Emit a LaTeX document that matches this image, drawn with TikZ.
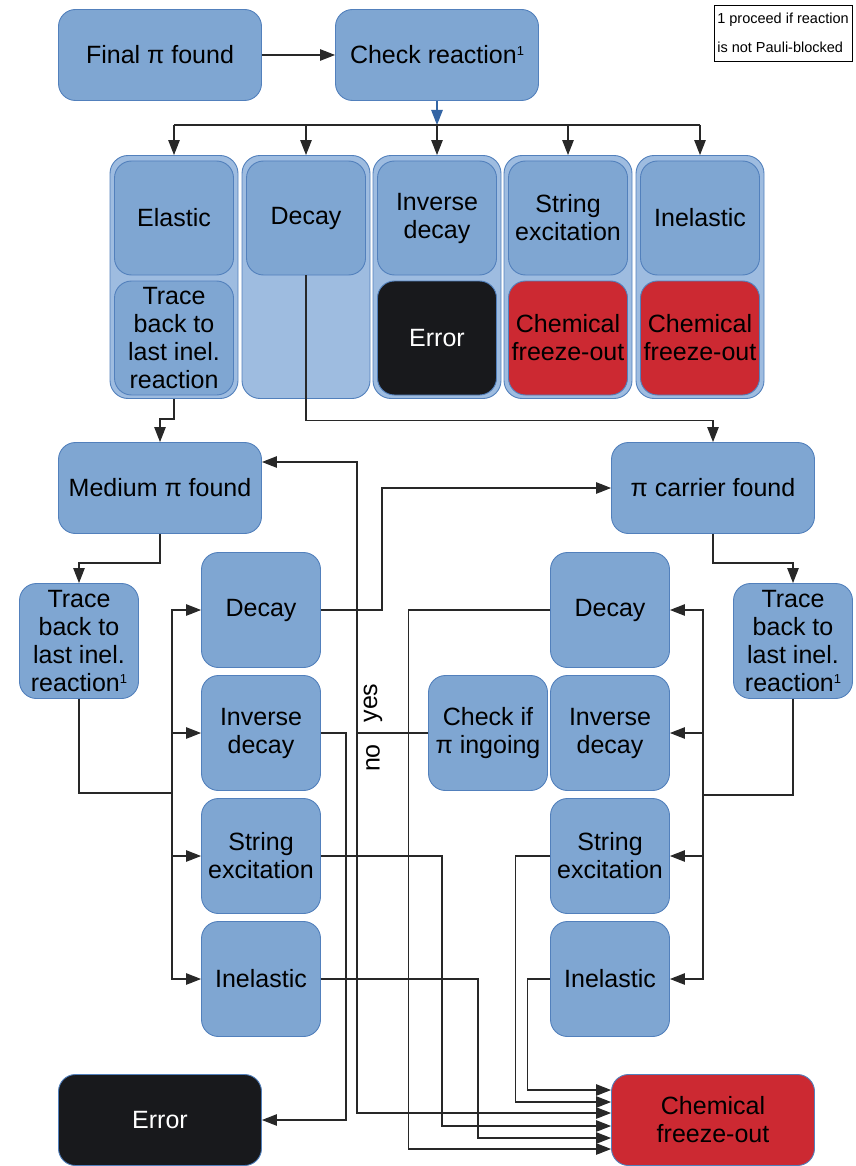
\documentclass[tikz,border=0pt]{standalone}
\usepackage{fontspec}
\setmainfont{Liberation Sans}
\usetikzlibrary{arrows.meta}
\definecolor{bfill}{RGB}{127,166,210}
\definecolor{bdr}{RGB}{82,128,188}
\definecolor{lfill}{RGB}{158,188,224}
\definecolor{redfill}{RGB}{204,41,50}
\definecolor{errfill}{RGB}{24,25,28}
\definecolor{lc}{RGB}{40,40,40}
\definecolor{tipblue}{RGB}{52,101,164}
\newcommand\mainfs{\fontsize{25}{28}\selectfont}
\newcommand\footmark{\raisebox{8pt}{\fontsize{13}{13}\selectfont 1}}
\begin{document}
\begin{tikzpicture}[x=1pt,y=-1pt,
  box/.style={draw=bdr, fill=bfill, line width=0.9pt, rounded corners=17pt, align=center, inner sep=0pt, font=\mainfs},
  big/.style={box, minimum width=203pt, minimum height=91pt},
  small/.style={box, minimum width=119pt, minimum height=115pt},
  inner/.style={box, minimum width=119pt, minimum height=114pt},
  errbox/.style={fill=errfill, text=white},
  redbox/.style={fill=redfill},
  cont/.style={draw=bdr, fill=lfill, line width=0.9pt, rounded corners=18pt, minimum width=128pt, minimum height=243pt, inner sep=0pt},
  conn/.style={draw=lc, line width=1.1pt},
  arr/.style={conn, -{Triangle[length=15pt,width=11.5pt]}},
  note/.style={draw=black, line width=0.6pt, minimum width=138pt, minimum height=56pt, align=left, inner sep=2pt, font=\fontsize{14.5}{29}\selectfont},
  lbl/.style={rotate=90, font=\mainfs, inner sep=0pt}
]
\useasboundingbox (0,0) rectangle (855,1166);

% top row
\node[big] (final) at (160,55) {Final π found};
\node[big] (check) at (437,55) {Check reaction\footmark};
\node[note] (note) at (783,33) {1 proceed if reaction\\is not Pauli-blocked};
\draw[arr] (final) -- (check);

% containers
\node[cont] (c1) at (174,277) {};
\node[cont] (c2) at (306,277) {};
\node[cont] (c3) at (437,277) {};
\node[cont] (c4) at (568,277) {};
\node[cont] (c5) at (700,277) {};

\node[inner] (elastic) at (174,218) {Elastic};
\node[inner] (trace0) at (174,338) {Trace\\back to\\last inel.\\reaction};
\node[inner] (decay0) at (306,218) {Decay};
\node[inner] (invdec0) at (437,218) {Inverse\\decay};
\node[inner, errbox] (err0) at (437,338) {Error};
\node[inner] (string0) at (568,218) {String\\excitation};
\node[inner, redbox] (cfo0a) at (568,338) {Chemical\\freeze-out};
\node[inner] (inel0) at (700,218) {Inelastic};
\node[inner, redbox] (cfo0b) at (700,338) {Chemical\\freeze-out};

\coordinate (bus) at (437,125);
\draw[conn, -{Triangle[length=15pt,width=11.5pt]}, tipblue] (check.south) -- (bus);
\draw[conn] (c1.north |- bus) -- (c5.north |- bus);
\foreach \c in {c1,c2,c3,c4,c5} \draw[arr] (\c.north |- bus) -- (\c.north);

% second level
\node[big] (medium) at (160,488) {Medium π found};
\node[big] (carrier) at (713,488) {π carrier found};
\draw[arr] (c1.south) -- ++(0,20) -| (medium.north);
\draw[arr] (decay0.south) -- ++(0,145) -| (carrier.north);

\node[small] (traceL) at (79,641) {Trace\\back to\\last inel.\\reaction\footmark};
\node[small] (traceR) at (793,641) {Trace\\back to\\last inel.\\reaction\footmark};
\draw[arr] (medium.south) -- ++(0,29) -| (traceL.north);
\draw[arr] (carrier.south) -- ++(0,29) -| (traceR.north);

\node[small] (decL) at (261,610) {Decay};
\node[small] (invL) at (261,733) {Inverse\\decay};
\node[small] (strL) at (261,856) {String\\excitation};
\node[small] (inelL) at (261,979) {Inelastic};
\node[small] (decR) at (610,610) {Decay};
\node[small] (invR) at (610,733) {Inverse\\decay};
\node[small] (strR) at (610,856) {String\\excitation};
\node[small] (inelR) at (610,979) {Inelastic};
\node[small] (checkpi) at (488,733) {Check if\\π ingoing};

\coordinate (busL) at (172,793);
\draw[conn] (traceL.south) |- (busL);
\foreach \n in {decL,invL,strL,inelL} \draw[arr] (busL) |- (\n.west);
\coordinate (busR) at (703,795);
\draw[conn] (traceR.south) |- (busR);
\foreach \n in {decR,invR,strR,inelR} \draw[arr] (busR) |- (\n.east);

% bottom
\node[big, errbox] (errB) at (160,1120) {Error};
\node[big, redbox] (cfoB) at (713,1120) {Chemical\\freeze-out};

\coordinate (in1) at ([yshift=30pt]cfoB.west);
\coordinate (in2) at ([yshift=18pt]cfoB.west);
\coordinate (in3) at ([yshift=7pt]cfoB.west);
\coordinate (in4) at ([yshift=-6pt]cfoB.west);
\coordinate (in5) at ([yshift=-18pt]cfoB.west);
\coordinate (in6) at ([yshift=-29pt]cfoB.west);

\draw[arr] (decL.east) -- ++(61,0) |- (carrier.west);
\coordinate (yn) at (357,733);
\draw[conn] (checkpi.west) -- (yn);
\draw[arr] (yn) |- ([yshift=26pt]medium.east);
\draw[arr] (yn) |- (in3);
\node[lbl] (yes) at (373,703) {yes};
\node[lbl] (no) at (373,758) {no};

\draw[arr] (invL.east) -- ++(25,0) |- (errB.east);
\draw[arr] (inelR.west) -- ++(-23,0) |- (in1);
\draw[arr] (strR.west) -- ++(-35,0) |- (in2);
\draw[arr] (strL.east) -- ++(121,0) |- (in4);
\draw[arr] (inelL.east) -- ++(157,0) |- (in5);
\draw[arr] (decR.west) -- ++(-142,0) |- (in6);
\end{tikzpicture}
\end{document}
